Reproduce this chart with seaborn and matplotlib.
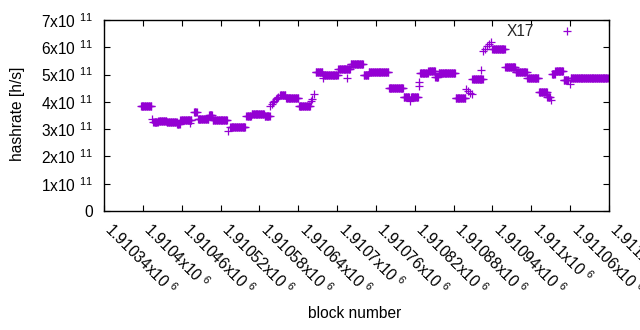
import numpy as np
import pandas as pd
import matplotlib
matplotlib.use("Agg")
import matplotlib.pyplot as plt
import matplotlib.transforms as mtransforms
from matplotlib.lines import Line2D
import seaborn as sns
from matplotlib.ticker import FixedLocator, FuncFormatter

# ---- data: runs of equal hashrate (block start, block end, value in 1e11 h/s)
run_start = [1910397, 1910414, 1910416, 1910424, 1910437, 1910453, 1910458, 1910473,
             1910479, 1910485, 1910502, 1910508, 1910532, 1910535, 1910560, 1910568,
             1910588, 1910597, 1910599, 1910601, 1910603, 1910605, 1910607, 1910609,
             1910612, 1910621, 1910641, 1910660, 1910662, 1910664, 1910667, 1910678,
             1910678, 1910702, 1910716, 1910721, 1910741, 1910749, 1910780, 1910803,
             1910812, 1910814, 1910827, 1910827, 1910828, 1910841, 1910852, 1910857,
             1910883, 1910899, 1910902, 1910905, 1910908, 1910909, 1910923, 1910926,
             1910929, 1910932, 1910935, 1910938, 1910940, 1910960, 1910976, 1910994,
             1911012, 1911025, 1911030, 1911032, 1911037, 1911050, 1911059, 1911061]
run_end = [1910413, 1910414, 1910423, 1910436, 1910452, 1910457, 1910475, 1910473,
           1910483, 1910501, 1910507, 1910530, 1910532, 1910558, 1910567, 1910587,
           1910596, 1910597, 1910599, 1910601, 1910603, 1910605, 1910607, 1910609,
           1910620, 1910640, 1910658, 1910660, 1910662, 1910664, 1910677, 1910701,
           1910678, 1910720, 1910716, 1910740, 1910748, 1910779, 1910802, 1910811,
           1910812, 1910825, 1910827, 1910827, 1910840, 1910851, 1910856, 1910882,
           1910898, 1910899, 1910902, 1910905, 1910908, 1910925, 1910923, 1910926,
           1910929, 1910932, 1910935, 1910938, 1910959, 1910975, 1910993, 1911011,
           1911024, 1911029, 1911030, 1911036, 1911049, 1911057, 1911059, 1911118]
run_value = [3.85, 3.38, 3.25, 3.31, 3.26, 3.20, 3.33, 3.24,
             3.62, 3.38, 3.52, 3.34, 2.95, 3.07, 3.48, 3.57,
             3.48, 3.86, 3.92, 3.98, 4.04, 4.09, 4.14, 4.19,
             4.24, 4.13, 3.86, 4.02, 4.10, 4.30, 5.08, 4.98,
             4.88, 5.20, 4.87, 5.38, 4.98, 5.10, 4.51, 4.17,
             4.02, 4.17, 4.71, 4.57, 5.04, 5.12, 4.92, 5.07,
             4.15, 4.47, 4.40, 4.33, 4.29, 4.84, 5.17, 5.87,
             5.95, 6.05, 6.12, 6.21, 5.93, 5.26, 5.08, 4.87,
             4.36, 4.17, 4.07, 5.02, 5.14, 4.80, 4.66, 4.87]

x_ticks = [1910340 + 60 * k for k in range(14)]
y_ticks = [0, 1, 2, 3, 4, 5, 6, 7]
series_label = "X17"

blocks, values = [], []
for s, e, v in zip(run_start, run_end, run_value):
    n = e - s + 1
    blocks.extend(range(s, e + 1))
    values.extend([v * 1e11] * n)
df = pd.DataFrame({"block": blocks, "hashrate": values})

sns.set_theme(style="ticks")
plt.rcParams["font.family"] = ["Liberation Sans", "DejaVu Sans"]
plt.rcParams["mathtext.fontset"] = "custom"
plt.rcParams["mathtext.rm"] = "Liberation Sans"
plt.rcParams["mathtext.it"] = "Liberation Sans"
plt.rcParams["mathtext.default"] = "regular"

FS = 11.2

fig = plt.figure(figsize=(6.4, 3.3), dpi=100)
ax = fig.add_axes([104 / 640, 1 - 211 / 330, (609 - 104) / 640, (211 - 20) / 330])

color = "#9400D3"
sns.scatterplot(data=df, x="block", y="hashrate", marker="+", color=color,
                s=30, linewidth=0.9, ax=ax, legend=False)

ax.set_xlim(1910340, 1911120)
ax.set_ylim(0, 7e11)

ax.xaxis.set_major_locator(FixedLocator(x_ticks))
ax.yaxis.set_major_locator(FixedLocator([v * 1e11 for v in y_ticks]))

def xfmt(v, pos):
    return "%gx10 $^{6}$" % (v / 1e6)

def yfmt(v, pos):
    k = int(round(v / 1e11))
    return "0" if k == 0 else "%dx10 $^{11}$" % k

ax.xaxis.set_major_formatter(FuncFormatter(xfmt))
ax.yaxis.set_major_formatter(FuncFormatter(yfmt))

ax.tick_params(axis="both", direction="in", length=4.5, width=0.8, color="black",
               top=True, right=True, labelsize=FS, labelcolor="black")
ax.tick_params(axis="y", pad=8)
ax.tick_params(axis="x", pad=6)
offset = mtransforms.ScaledTranslation(11 / 100, 0, fig.dpi_scale_trans)
for lab in ax.get_xticklabels():
    lab.set_rotation(-45)
    lab.set_ha("left")
    lab.set_va("top")
    lab.set_rotation_mode("anchor")
    lab.set_transform(lab.get_transform() + offset)

for sp in ax.spines.values():
    sp.set_linewidth(1.0)
    sp.set_color("black")

ax.set_xlabel("block number", fontsize=FS, color="black")
ax.set_ylabel("hashrate [h/s]", fontsize=FS, color="black")
ax.xaxis.set_label_coords((355 - 104) / 505, -(306 - 211) / 191)
ax.yaxis.set_label_coords(-(104 - 25) / 505, (211 - 113.5) / 191)

handle = Line2D([], [], marker="+", color=color, linestyle="none",
                markersize=6.0, markeredgewidth=0.9)
ax.legend([handle], [series_label], loc="center right",
          bbox_to_anchor=((583 - 104) / 505, (211 - 31.5) / 191),
          frameon=False, markerfirst=False, fontsize=FS,
          handletextpad=1.15, handlelength=2.0, borderpad=0, borderaxespad=0)

fig.savefig("out.png", dpi=100)
